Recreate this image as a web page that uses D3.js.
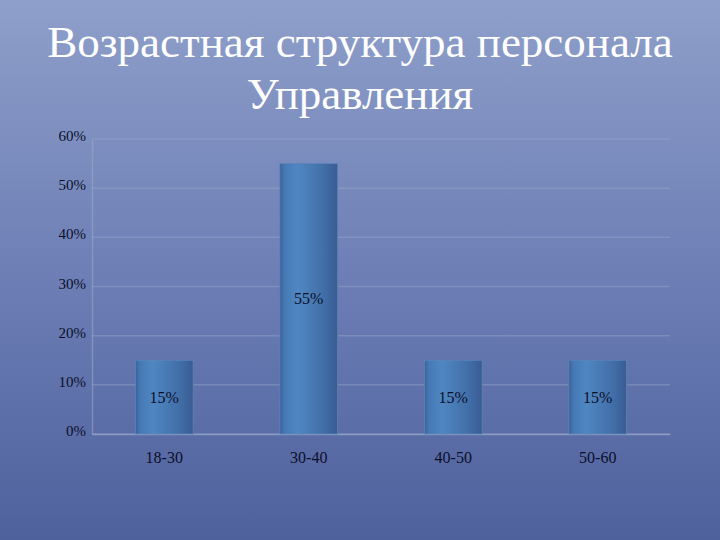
<!DOCTYPE html>
<html>
<head>
<meta charset="utf-8">
<script src="https://cdn.jsdelivr.net/npm/d3@7"></script>
<style>
  html, body { margin: 0; padding: 0; }
  body { width: 720px; height: 540px; overflow: hidden; }
</style>
</head>
<body>
<div id="chart"></div>
<script>
// data
var categories = ["18-30", "30-40", "40-50", "50-60"];
var values = [0.15, 0.55, 0.15, 0.15];
var yTicks = [0, 0.1, 0.2, 0.3, 0.4, 0.5, 0.6];
var titleLines = ["Возрастная структура персонала", "Управления"];

var serif = "Liberation Serif";

var width = 720, height = 540;
var margin = {top: 139, right: 50, bottom: 106, left: 92};
var innerW = width - margin.left - margin.right,
    innerH = height - margin.top - margin.bottom;

var svg = d3.select("#chart").append("svg")
    .attr("width", width)
    .attr("height", height)
    .attr("font-family", serif);

var defs = svg.append("defs");

var bg = defs.append("linearGradient")
    .attr("id", "bg").attr("x1", 0).attr("y1", 0).attr("x2", 0).attr("y2", 1);
bg.append("stop").attr("offset", "0%").attr("stop-color", "#8e9fca");
bg.append("stop").attr("offset", "50%").attr("stop-color", "#6d7fb5");
bg.append("stop").attr("offset", "100%").attr("stop-color", "#4f619d");

var barGrad = defs.append("linearGradient")
    .attr("id", "barGrad").attr("x1", 0).attr("y1", 0).attr("x2", 1).attr("y2", 0);
barGrad.append("stop").attr("offset", "0%").attr("stop-color", "#3c609b");
barGrad.append("stop").attr("offset", "8%").attr("stop-color", "#4579b4");
barGrad.append("stop").attr("offset", "30%").attr("stop-color", "#4f87c2");
barGrad.append("stop").attr("offset", "75%").attr("stop-color", "#426fa8");
barGrad.append("stop").attr("offset", "100%").attr("stop-color", "#395c92");

svg.append("rect")
    .attr("width", width).attr("height", height)
    .attr("fill", "url(#bg)");

// title
svg.append("g").selectAll("text")
    .data(titleLines)
    .enter().append("text")
    .attr("x", 360)
    .attr("y", function(d, i) { return 57 + i * 52; })
    .attr("text-anchor", "middle")
    .attr("fill", "#ffffff")
    .attr("font-family", serif)
    .attr("font-size", 45)
    .text(function(d) { return d; });

var g = svg.append("g")
    .attr("transform", "translate(" + margin.left + "," + margin.top + ")");

var x = d3.scaleBand()
    .domain(categories)
    .range([0, innerW])
    .paddingInner(0.6)
    .paddingOuter(0.3);

var y = d3.scaleLinear()
    .domain([0, 0.6])
    .range([innerH, 0]);

// gridlines
g.append("g")
    .selectAll("line")
    .data(yTicks)
    .enter().append("line")
    .attr("x1", 0).attr("x2", innerW)
    .attr("y1", function(d) { return y(d); })
    .attr("y2", function(d) { return y(d); })
    .attr("stroke", "#a3b0cf")
    .attr("stroke-opacity", 0.35)
    .attr("stroke-width", 1.5);

// y axis
var yAxis = d3.axisLeft(y)
    .tickValues(yTicks)
    .tickSize(0)
    .tickPadding(6)
    .tickFormat(d3.format(".0%"));

var yg = g.append("g").attr("class", "axis y-axis").call(yAxis);
yg.select(".domain").attr("stroke", "#9fabcb").attr("stroke-opacity", 0.5).attr("stroke-width", 1.5);
yg.selectAll("text")
    .attr("fill", "#0b0f2a")
    .attr("font-family", serif)
    .attr("font-size", 15)
    .attr("dy", "0.1em");

// x axis
var xAxis = d3.axisBottom(x).tickSize(0).tickPadding(18);
var xg = g.append("g")
    .attr("class", "axis x-axis")
    .attr("transform", "translate(0," + innerH + ")")
    .call(xAxis);
xg.select(".domain").attr("stroke", "#a3b0cf").attr("stroke-opacity", 0.6).attr("stroke-width", 1.5);
xg.selectAll("text")
    .attr("fill", "#0b0f2a")
    .attr("font-family", serif)
    .attr("font-size", 16);

// bars
var data = categories.map(function(c, i) { return {cat: c, val: values[i]}; });

g.selectAll("rect.bar")
    .data(data)
    .enter().append("rect")
    .attr("class", "bar")
    .attr("x", function(d) { return x(d.cat); })
    .attr("y", function(d) { return y(d.val); })
    .attr("width", x.bandwidth())
    .attr("height", function(d) { return innerH - y(d.val); })
    .attr("fill", "url(#barGrad)")
    .attr("stroke", "#5f84b8")
    .attr("stroke-width", 0.8);

g.selectAll("text.label")
    .data(data)
    .enter().append("text")
    .attr("class", "label")
    .attr("x", function(d) { return x(d.cat) + x.bandwidth() / 2; })
    .attr("y", function(d) { return (y(d.val) + innerH) / 2; })
    .attr("dy", "0.35em")
    .attr("text-anchor", "middle")
    .attr("fill", "#0b0f2a")
    .attr("font-family", serif)
    .attr("font-size", 16)
    .text(function(d) { return d3.format(".0%")(d.val); });
</script>
</body>
</html>
